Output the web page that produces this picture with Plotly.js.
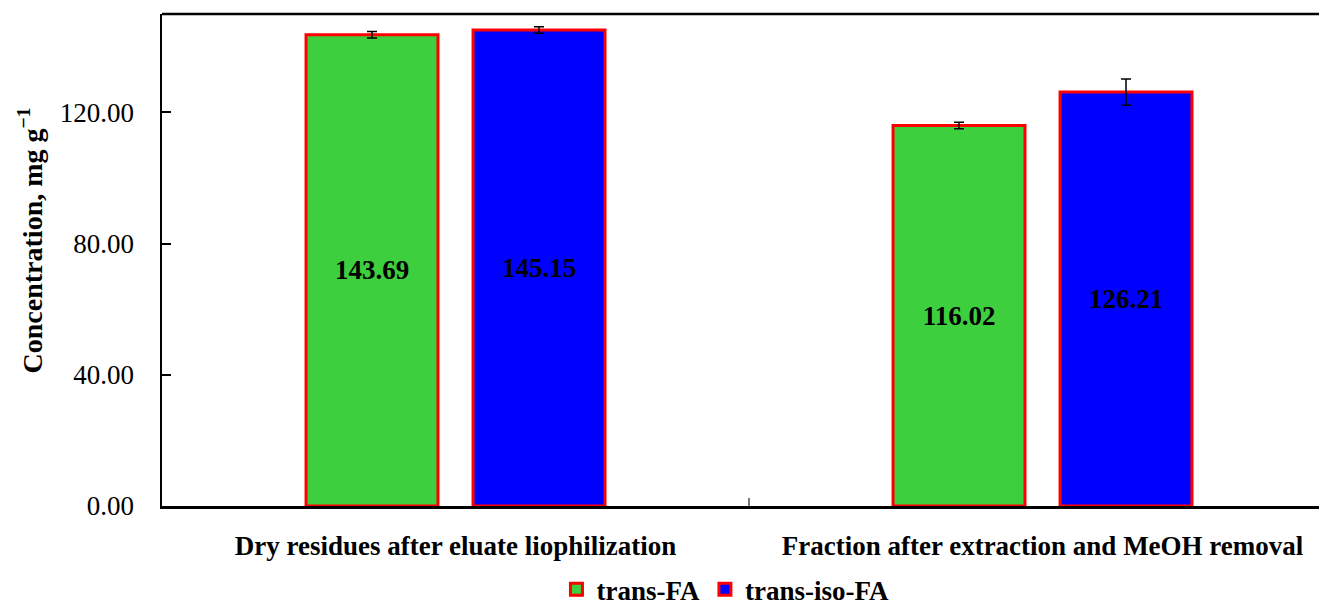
<!DOCTYPE html>
<html>
<head>
<meta charset="utf-8">
<script src="https://cdn.plot.ly/plotly-3.0.1.min.js"></script>
<style>html,body{margin:0;padding:0;background:#fff;overflow:hidden}</style>
</head>
<body>
<div id="chart" style="width:1319px;height:608px"></div>
<script>
var categories = ["Dry residues after eluate liophilization", "Fraction after extraction and MeOH removal"];
var transFA = [143.69, 116.02];
var transFAerr = [1.0, 1.0];
var transIsoFA = [145.15, 126.21];
var transIsoFAerr = [1.0, 4.0];
var seriesNames = ["trans-FA", "trans-iso-FA"];
var yTicks = [0, 40, 80, 120];
var yTickLabels = ["0.00", "40.00", "80.00", "120.00"];
var yTitle = "Concentration, mg g<sup>\u22121</sup>";

var FONT = "Liberation Serif, Times New Roman, serif";

function mk(name, vals, errs, color) {
  return {
    type: "bar",
    name: name,
    x: categories,
    y: vals,
    text: vals.map(function(v){ return v.toFixed(2); }),
    textposition: "inside",
    insidetextanchor: "middle",
    textangle: 0,
    constraintext: "none",
    textfont: {family: FONT, size: 27, color: "#000", weight: "bold"},
    marker: {color: color, line: {color: "#ff0000", width: 3}},
    error_y: {type: "data", array: errs, visible: true, color: "#000", thickness: 1.5, width: 5},
    hoverinfo: "none"
  };
}

var data = [
  mk(seriesNames[0], transFA, transFAerr, "#3dcf3d"),
  mk(seriesNames[1], transIsoFA, transIsoFAerr, "#0000ff")
];

var layout = {
  width: 1319, height: 608,
  margin: {l: 162, r: 0, t: 14, b: 102},
  paper_bgcolor: "#fff", plot_bgcolor: "#fff",
  barmode: "group",
  bargap: 0.431,
  bargroupgap: 0.21,
  font: {family: FONT, size: 27, color: "#000"},
  showlegend: true,
  legend: {
    orientation: "h", xref: "container", x: 0.55, xanchor: "center",
    yref: "container", y: 0.03, yanchor: "middle",
    font: {family: FONT, size: 27, color: "#000", weight: "bold"},
    traceorder: "normal", tracegroupgap: 0
  },
  xaxis: {
    type: "category",
    range: [-0.5, 1.471],
    automargin: false,
    showline: true, linecolor: "#000", linewidth: 2.5,
    ticks: "inside", tickson: "boundaries", ticklen: 8, tickcolor: "#777", tickwidth: 1.5,
    ticklabelstandoff: 14,
    tickfont: {family: FONT, size: 27, color: "#000", weight: "bold"},
    showgrid: false, zeroline: false, fixedrange: true
  },
  yaxis: {
    range: [0, 150],
    automargin: false,
    tickvals: yTicks, ticktext: yTickLabels,
    showline: true, linecolor: "#000", linewidth: 2.5,
    ticks: "inside", ticklen: 9, tickcolor: "#000", tickwidth: 2,
    ticklabelstandoff: 20,
    tickfont: {family: FONT, size: 27, color: "#000"},
    showgrid: false, zeroline: false, fixedrange: true
  },
  annotations: [
    {text: yTitle, xref: "paper", yref: "paper", x: -0.114, y: 0.54, xanchor: "center", yanchor: "middle",
     textangle: -90, showarrow: false, font: {family: FONT, size: 28, color: "#000", weight: "bold"}}
  ],
  shapes: [
    {type: "line", xref: "paper", yref: "paper", x0: 0, x1: 1, y0: 1, y1: 1, line: {color: "#000", width: 2.5}}
  ]
};

Plotly.newPlot("chart", data, layout, {displayModeBar: false, staticPlot: true});
</script>
</body>
</html>
